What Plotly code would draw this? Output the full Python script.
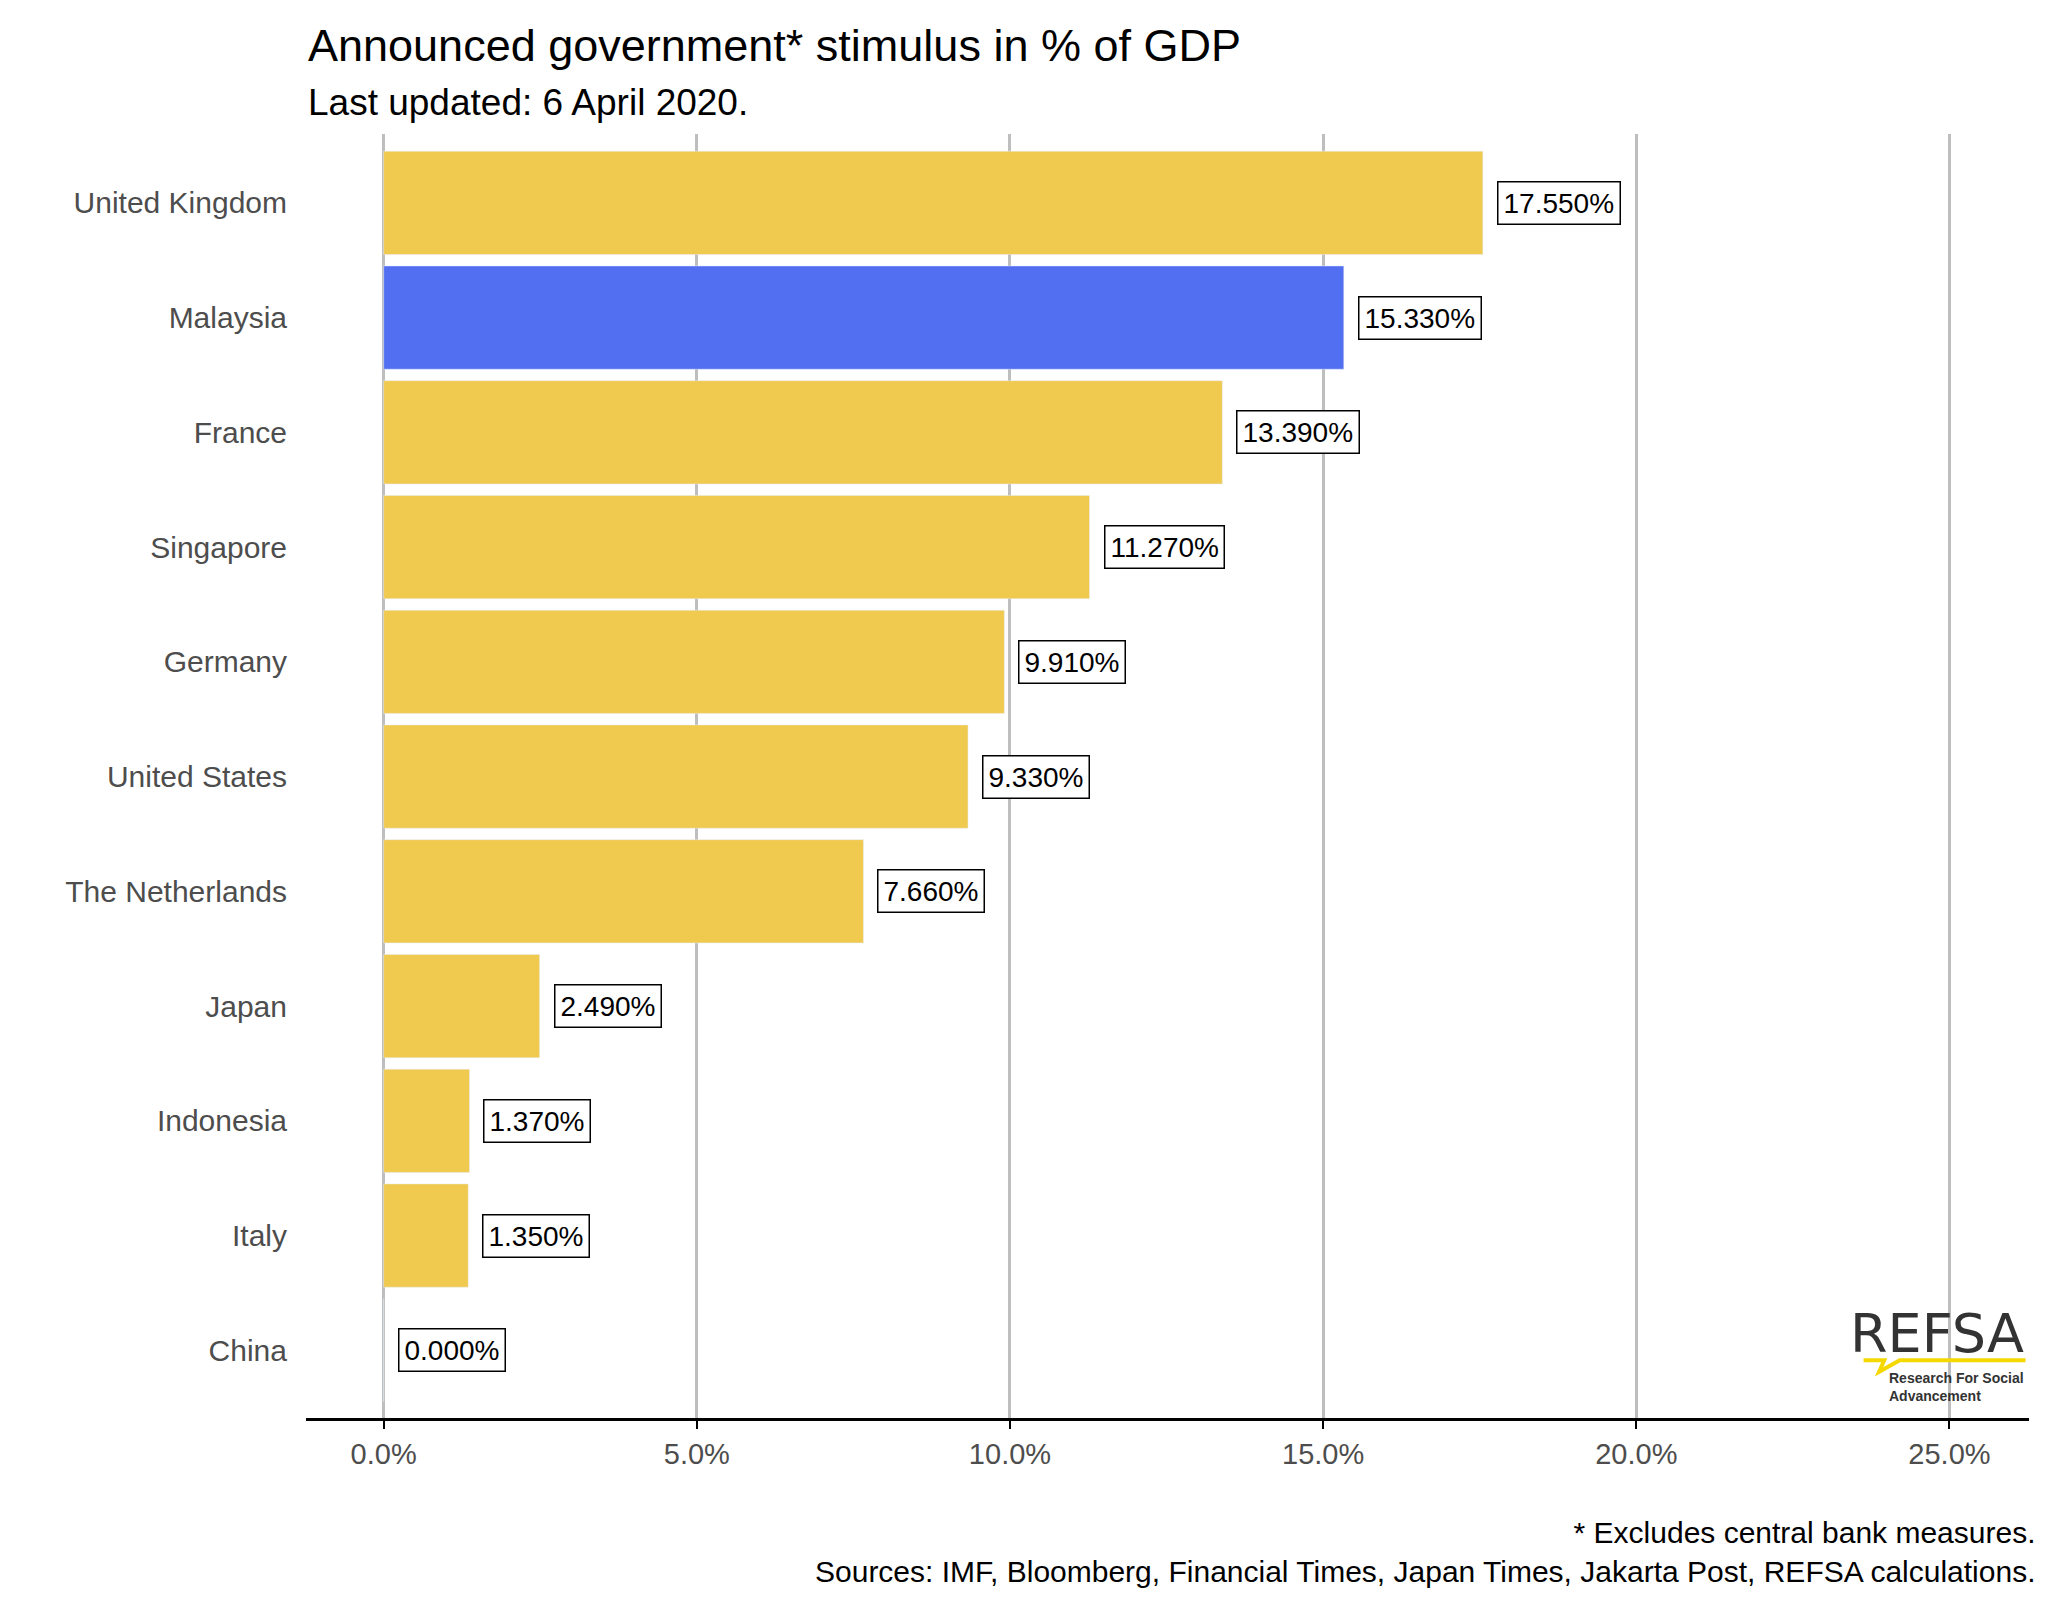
import plotly.graph_objects as go

countries = ["United Kingdom","Malaysia","France","Singapore","Germany","United States","The Netherlands","Japan","Indonesia","Italy","China"]
values = [17.55,15.33,13.39,11.27,9.91,9.33,7.66,2.49,1.37,1.35,0.0]
colors = ["#F0C94F" if c != "Malaysia" else "#526FF2" for c in countries]
tickvals = [0,5,10,15,20,25]
ticktext = ["0.0%","5.0%","10.0%","15.0%","20.0%","25.0%"]

cats = countries[::-1]
vals = values[::-1]
cols = colors[::-1]

T, B = 126, 199
fig = go.Figure(go.Bar(x=vals, y=cats, orientation="h", marker_color=cols, width=0.9, hoverinfo="skip"))
for c, v in zip(cats, vals):
    fig.add_annotation(x=v, y=c, text=f"{v:.3f}%", showarrow=False, xanchor="left", xshift=14,
                       font=dict(size=28, color="black", family="Liberation Sans, Arial"),
                       bgcolor="white", bordercolor="black", borderwidth=1.5, borderpad=5)

fig.update_layout(
    width=2048, height=1609, plot_bgcolor="white", paper_bgcolor="white",
    margin=dict(l=298, r=27, t=T, b=B), showlegend=False,
    font=dict(family="Liberation Sans, Arial", size=26, color="#4D4D4D"),
    xaxis=dict(range=[-1.24, 26.27], tickvals=tickvals, ticktext=ticktext, showgrid=True,
               gridcolor="#BEBEBE", gridwidth=2.6, zeroline=False, showline=True, linecolor="black",
               linewidth=3, ticks="outside", ticklen=8, tickcolor="black", tickwidth=2,
               tickfont=dict(size=29, color="#4D4D4D")),
    yaxis=dict(range=[-0.59, 10.6], showgrid=False, ticks="", tickfont=dict(size=30, color="#4D4D4D"),
               ticklabelstandoff=18),
)
fig.add_annotation(xref="paper", yref="paper", x=0, y=1, yshift=T - 10, xanchor="left", yanchor="top",
                   text="Announced government* stimulus in % of GDP", showarrow=False,
                   font=dict(size=45, color="black"))
fig.add_annotation(xref="paper", yref="paper", x=0, y=1, yshift=T - 72, xanchor="left", yanchor="top",
                   text="Last updated: 6 April 2020.", showarrow=False, font=dict(size=37, color="black"))
fig.add_annotation(xref="paper", yref="paper", x=1, y=0, xshift=9, yshift=-96, xanchor="right", yanchor="top",
                   text="* Excludes central bank measures.<br>Sources: IMF, Bloomberg, Financial Times, Japan Times, Jakarta Post, REFSA calculations.",
                   showarrow=False, align="right", font=dict(size=30, color="black"))
# logo
fig.add_annotation(xref="paper", yref="paper", x=0.998, y=0, yshift=118, xanchor="right", yanchor="top",
                   text="REFSA", showarrow=False, font=dict(size=54, color="#333333", family="DejaVu Sans"))
fig.add_shape(type="path", xref="paper", yref="paper",
              path="M 0.904 0.045 L 0.916 0.045 L 0.913 0.036 L 0.925 0.045 L 0.998 0.045",
              line=dict(color="#F5D800", width=4))
fig.add_annotation(xref="paper", yref="paper", x=0.998, y=0, yshift=50, xanchor="right", yanchor="top",
                   text="<b>Research For Social</b><br><b>Advancement</b>", showarrow=False, align="left",
                   font=dict(size=14, color="#333333"))
fig.write_html("out.html")
